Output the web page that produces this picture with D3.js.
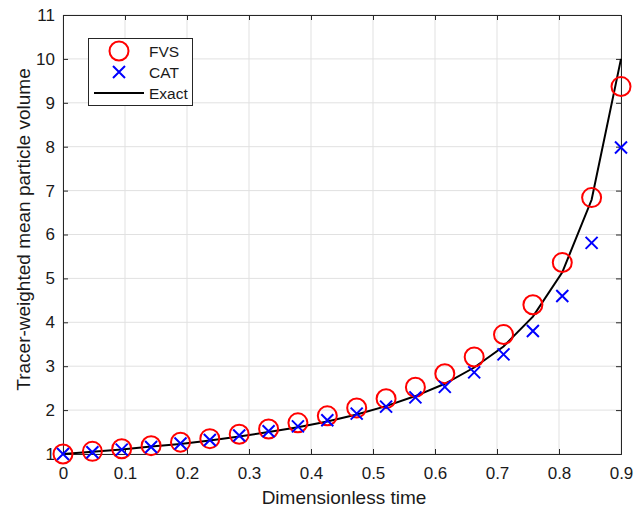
<!DOCTYPE html>
<html>
<head>
<meta charset="utf-8">
<script src="https://cdn.jsdelivr.net/npm/d3@7"></script>
<style>
  body { margin: 0; background: #fff; }
  text { font-family: "Liberation Sans", Arial, sans-serif; fill: #1a1a1a; }
</style>
</head>
<body>
<div id="chart"></div>
<script>
// sample times (20 points from 0 to 0.9)
const times = [0, 0.0474, 0.0947, 0.1421, 0.1895, 0.2368, 0.2842, 0.3316, 0.3789, 0.4263,
               0.4737, 0.5211, 0.5684, 0.6158, 0.6632, 0.7105, 0.7579, 0.8053, 0.8526, 0.9]
const fvsValues = [1.00, 1.06, 1.12, 1.19, 1.27, 1.35, 1.45, 1.57, 1.71, 1.87,
                   2.05, 2.26, 2.52, 2.83, 3.21, 3.72, 4.40, 5.36, 6.84, 9.37]
const catValues = [1.00, 1.04, 1.10, 1.16, 1.24, 1.32, 1.42, 1.52, 1.63, 1.77,
                   1.92, 2.08, 2.29, 2.53, 2.86, 3.27, 3.80, 4.60, 5.81, 7.98]
const exactValues = [1.00, 1.05, 1.10, 1.17, 1.23, 1.31, 1.40, 1.50, 1.61, 1.74,
                     1.90, 2.09, 2.32, 2.60, 2.97, 3.45, 4.13, 5.14, 6.79, 10.0]
const xTicks = [0, 0.1, 0.2, 0.3, 0.4, 0.5, 0.6, 0.7, 0.8, 0.9]
const yTicks = [1, 2, 3, 4, 5, 6, 7, 8, 9, 10, 11]

const plotLeft = 63, plotRight = 621, plotTop = 15, plotBottom = 454

const svg = d3.select("#chart").append("svg")
    .attr("width", 643)
    .attr("height", 511)

let x = d3.scaleLinear().domain([0, 0.9]).range([plotLeft, plotRight])
let y = d3.scaleLinear().domain([1, 11]).range([plotBottom, plotTop])

// grid
svg.append("g").selectAll("line")
    .data(xTicks).enter().append("line")
    .attr("x1", d => x(d)).attr("x2", d => x(d))
    .attr("y1", plotTop).attr("y2", plotBottom)
    .attr("stroke", "#e1e1e1").attr("stroke-width", 1)
svg.append("g").selectAll("line")
    .data(yTicks).enter().append("line")
    .attr("x1", plotLeft).attr("x2", plotRight)
    .attr("y1", d => y(d)).attr("y2", d => y(d))
    .attr("stroke", "#e1e1e1").attr("stroke-width", 1)

// axes (ticks inside, box all round)
const tickLen = 5
svg.append("g")
    .attr("transform", "translate(0," + plotBottom + ")")
    .call(d3.axisBottom(x).tickValues(xTicks).tickSize(-tickLen).tickPadding(13)
        .tickFormat(d => d === 0 ? "0" : d3.format(".1f")(d)))
svg.append("g")
    .attr("transform", "translate(0," + plotTop + ")")
    .call(d3.axisTop(x).tickValues(xTicks).tickSize(-tickLen).tickFormat(""))
svg.append("g")
    .attr("transform", "translate(" + plotLeft + ",0)")
    .call(d3.axisLeft(y).tickValues(yTicks).tickSize(-tickLen).tickPadding(8))
svg.append("g")
    .attr("transform", "translate(" + plotRight + ",0)")
    .call(d3.axisRight(y).tickValues(yTicks).tickSize(-tickLen).tickFormat(""))

svg.selectAll(".domain").attr("stroke", "#262626")
svg.selectAll(".tick line").attr("stroke", "#262626")
svg.selectAll(".tick text").attr("font-size", "17px")
    .attr("font-family", "Liberation Sans, Arial, sans-serif").attr("fill", "#1a1a1a")

// exact line
let points = times.map((t, i) => ({t, fvs: fvsValues[i], cat: catValues[i], exact: exactValues[i]}))

svg.append("path")
    .datum(points)
    .attr("fill", "none")
    .attr("stroke", "black")
    .attr("stroke-width", 2)
    .attr("d", d3.line().x(d => x(d.t)).y(d => y(d.exact)))

// FVS circles
svg.append("g").selectAll("circle")
    .data(points).enter().append("circle")
    .attr("cx", d => x(d.t))
    .attr("cy", d => y(d.fvs))
    .attr("r", 9.5)
    .attr("fill", "none")
    .attr("stroke", "#ff0000")
    .attr("stroke-width", 2)

// CAT crosses
const cross = (g, cx, cy, s) => g.append("path")
    .attr("d", `M${cx - s},${cy - s}L${cx + s},${cy + s}M${cx - s},${cy + s}L${cx + s},${cy - s}`)
    .attr("stroke", "#0000ff").attr("stroke-width", 2).attr("fill", "none")

let crosses = svg.append("g")
points.forEach(d => cross(crosses, x(d.t), y(d.cat), 6))

// axis labels
svg.append("text")
    .attr("x", 344).attr("y", 504)
    .attr("text-anchor", "middle").attr("font-size", "19px")
    .text("Dimensionless time")
svg.append("text")
    .attr("transform", "translate(29.5,229.5) rotate(-90)")
    .attr("text-anchor", "middle").attr("font-size", "19px")
    .text("Tracer-weighted mean particle volume")

// legend
let legend = svg.append("g")
legend.append("rect")
    .attr("x", 88.5).attr("y", 38.5).attr("width", 104).attr("height", 67)
    .attr("fill", "white").attr("stroke", "#262626").attr("stroke-width", 1)
legend.append("circle")
    .attr("cx", 119).attr("cy", 51).attr("r", 9.5)
    .attr("fill", "none").attr("stroke", "#ff0000").attr("stroke-width", 2)
cross(legend, 119, 72, 6)
legend.append("line")
    .attr("x1", 94).attr("x2", 144).attr("y1", 93).attr("y2", 93)
    .attr("stroke", "black").attr("stroke-width", 2)
const legendLabels = ["FVS", "CAT", "Exact"]
legend.selectAll("text.lbl")
    .data(legendLabels).enter().append("text")
    .attr("x", 149).attr("y", (d, i) => 57 + i * 21)
    .attr("font-size", "15.5px")
    .text(d => d)
</script>
</body>
</html>
